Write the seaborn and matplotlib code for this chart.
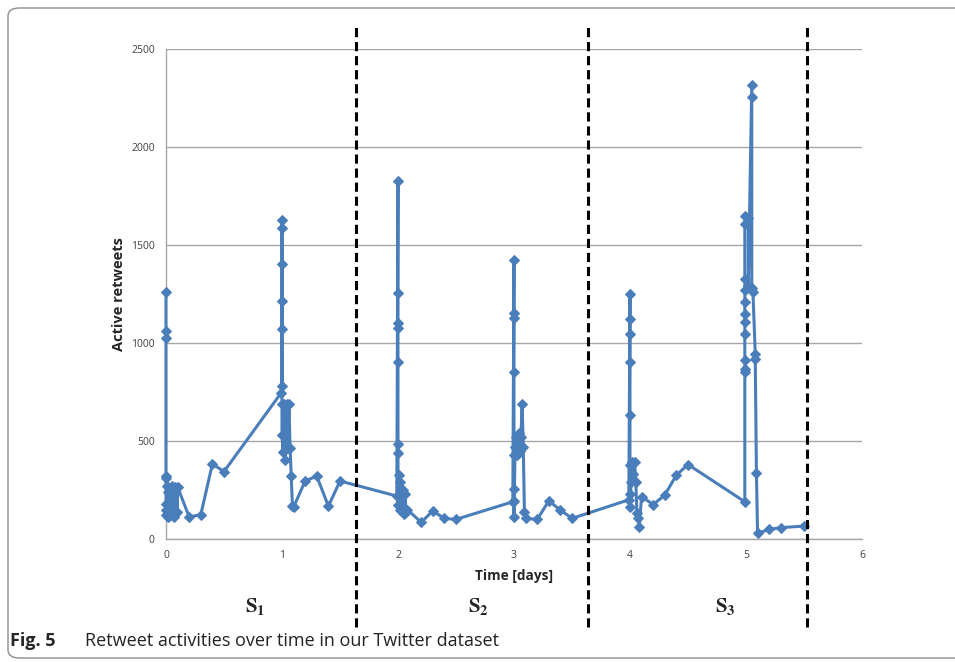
import matplotlib
matplotlib.use("Agg")
import matplotlib.pyplot as plt
from matplotlib.patches import FancyBboxPatch
import seaborn as sns
import pandas as pd

# time [days] and active retweets, in the order the line is drawn
days = [
    0.0, 0.0, 0.0, 0.0, 0.0, 0.0, 0.0, 0.0,
    0.01, 0.015, 0.02, 0.03, 0.035, 0.04, 0.05, 0.055, 0.06, 0.07, 0.075, 0.08, 0.09, 0.095, 0.1,
    0.2, 0.3, 0.4, 0.5,
    0.99, 1.0, 1.0, 1.0, 1.0, 1.0, 1.0, 1.0, 1.0, 1.01, 1.02, 1.03, 1.04, 1.05, 1.06, 1.07,
    1.08, 1.09, 1.1, 1.2, 1.3, 1.4, 1.5,
    1.99, 2.0, 2.0, 2.0, 2.0, 2.0, 2.0, 2.0, 2.0, 2.01, 2.015, 2.02, 2.03, 2.04, 2.05, 2.06,
    2.07, 2.08, 2.2, 2.3, 2.4, 2.5,
    2.99, 3.0, 3.0, 3.0, 3.0, 3.0, 3.0, 3.0, 3.0, 3.01, 3.02, 3.03, 3.04, 3.05, 3.06, 3.07,
    3.08, 3.09, 3.1, 3.2, 3.3, 3.4, 3.5,
    3.99, 4.0, 4.0, 4.0, 4.0, 4.0, 4.0, 4.0, 4.0, 4.01, 4.02, 4.03, 4.04, 4.05, 4.06, 4.07,
    4.08, 4.1, 4.2, 4.3, 4.4, 4.5,
    4.99, 4.99, 4.99, 4.99, 4.99, 4.99, 4.99, 4.99, 4.99, 4.99, 4.99, 4.995, 5.02, 5.02,
    5.05, 5.05, 5.05, 5.06, 5.08, 5.08, 5.09, 5.1, 5.2, 5.3, 5.5,
]
retweets = [
    1260, 1060, 1025, 320, 310, 180, 150, 120,
    270, 110, 240, 115, 260, 130, 270, 120, 230, 110, 265, 125, 260, 140, 265,
    113, 124, 383, 344,
    743, 782, 1069, 1216, 1405, 1585, 1625, 690, 533, 442, 690, 404, 690, 464, 690, 464,
    321, 170, 163, 296, 321, 167, 296,
    219, 1825, 1256, 1104, 1076, 905, 484, 441, 173, 326, 150, 292, 160, 250, 130, 232,
    140, 150, 85, 143, 105, 100,
    190, 1421, 1154, 1129, 852, 428, 253, 195, 114, 470, 520, 430, 540, 450, 520, 691,
    470, 139, 105, 100, 194, 148, 105,
    200, 1251, 1123, 1047, 903, 635, 377, 232, 165, 290, 394, 330, 394, 292, 131, 105,
    63, 216, 176, 224, 326, 380,
    190, 852, 869, 911, 1044, 1106, 1149, 1208, 1268, 1327, 1607, 1648, 1640, 1290,
    2315, 2257, 1280, 1259, 945, 920, 339, 29, 49, 58, 66,
]

# session boundaries (dashed lines) and labels
boundaries = [1.64, 3.64, 5.53]
session_labels = [r"$\mathbf{S_1}$", r"$\mathbf{S_2}$", r"$\mathbf{S_3}$"]
session_x = [0.77, 2.69, 4.82]

df = pd.DataFrame({"days": days, "retweets": retweets})

sns.set_style("white")
plt.rcParams["font.family"] = ["Open Sans", "DejaVu Sans"]
plt.rcParams["mathtext.fontset"] = "stix"

fig = plt.figure(figsize=(9.55, 6.62), dpi=100)
ax = fig.add_axes([0.1738, 0.1858, 0.7288, 0.7402])

sns.lineplot(data=df, x="days", y="retweets", sort=False, estimator=None,
             color="#4A7EBB", linewidth=2.2, marker="D", markersize=5,
             markeredgecolor="#4A7EBB", ax=ax, clip_on=False, zorder=4)

ax.set_xlim(0, 6)
ax.set_ylim(0, 2500)
ax.set_xticks(range(0, 7))
ax.set_yticks(range(0, 2501, 500))
ax.yaxis.grid(True, color="#a6a6a6", linewidth=1)
ax.set_axisbelow(True)
for s in ["top", "right"]:
    ax.spines[s].set_visible(False)
for s in ["left", "bottom"]:
    ax.spines[s].set_color("#a6a6a6")
    ax.spines[s].set_linewidth(1)
ax.tick_params(axis="both", length=0, labelsize=7.5, labelcolor="#404040", pad=8)

ax.set_xlabel("Time [days]", fontsize=9.8, fontweight="bold", labelpad=6)
ax.set_ylabel("Active retweets", fontsize=10.5, fontweight="bold", labelpad=4)

for b in boundaries:
    ax.axvline(b, ymin=-0.18, ymax=1.05, color="black", linestyle=(0, (3, 1.6)),
               linewidth=2.2, clip_on=False, zorder=5)

for lx, lab in zip(session_x, session_labels):
    ax.text(lx, -0.138, lab, transform=ax.get_xaxis_transform(), ha="center",
            va="center", fontsize=15)

# figure frame and caption
frame = FancyBboxPatch((8 / 955, 4 / 662), 1.2, 650 / 662,
                       boxstyle="round,pad=0,rounding_size=0.012",
                       transform=fig.transFigure, fill=False,
                       edgecolor="#8c8c8c", linewidth=1)
fig.patches.append(frame)
fig.text(10 / 955, 1 - 641 / 662, "Fig. 5", fontsize=13, fontweight="bold",
         va="center", ha="left")
fig.text(85 / 955, 1 - 641 / 662, "Retweet activities over time in our Twitter dataset",
         fontsize=13, va="center", ha="left", color="#222222")

fig.savefig("out.png", dpi=100)
